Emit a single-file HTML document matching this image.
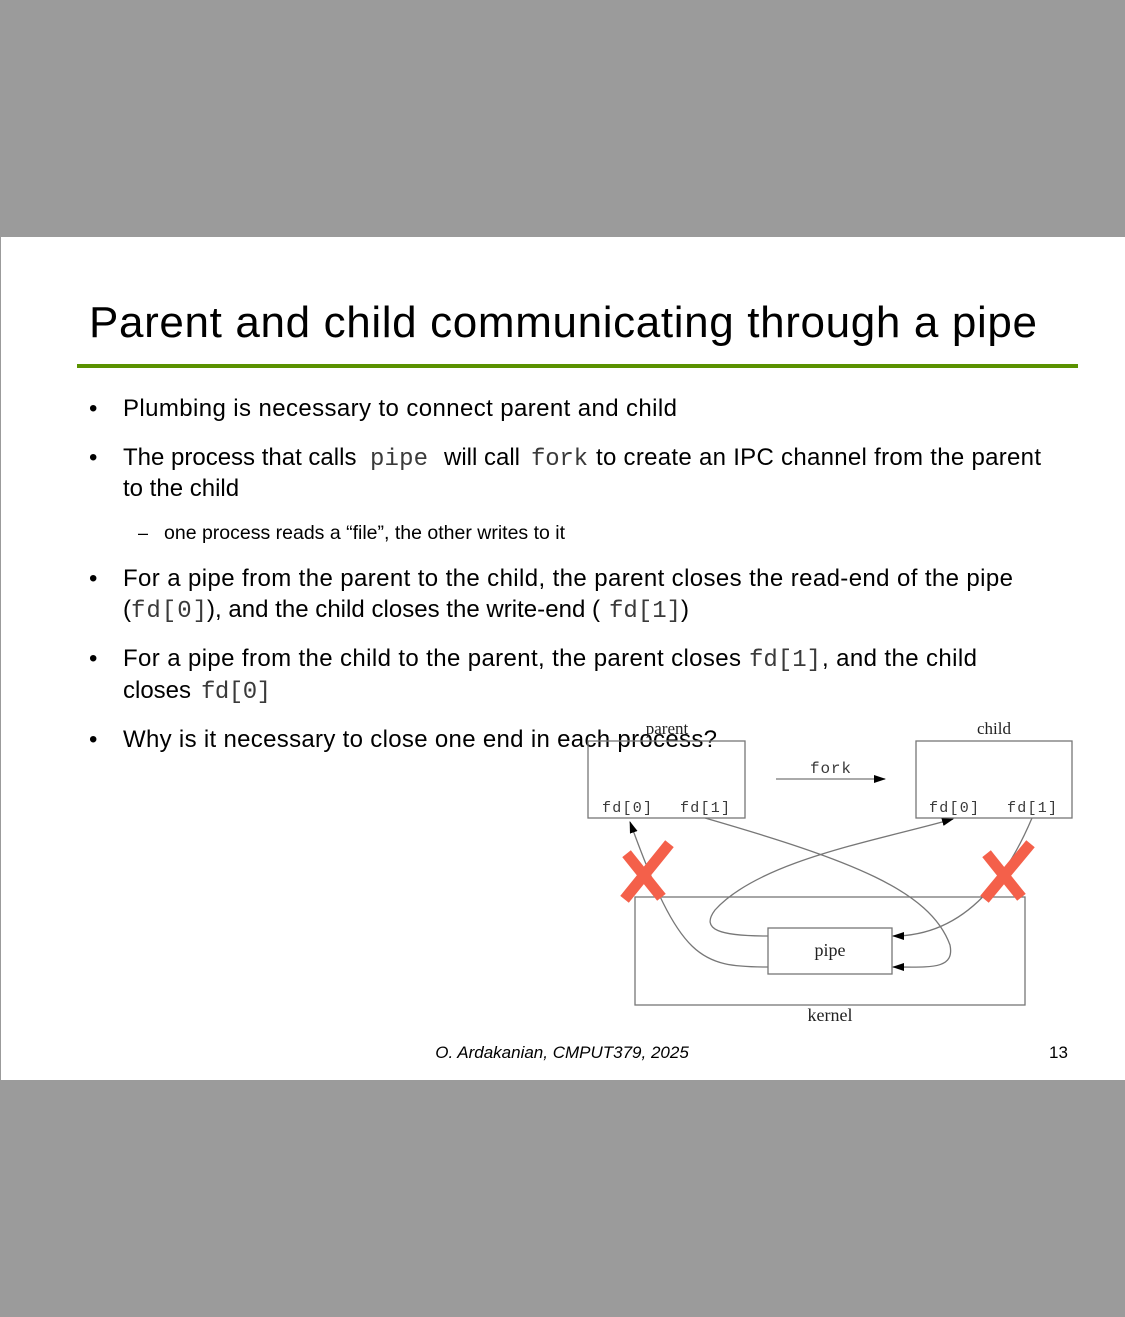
<!DOCTYPE html>
<html><head><meta charset="utf-8"><style>
html,body{margin:0;padding:0;background:#9b9b9b;}
svg{display:block;}
.s{font-family:"Liberation Sans",sans-serif;fill:#000;}
.m{font-family:"Liberation Mono",monospace;fill:#3a3a3a;}
.r{font-family:"Liberation Serif",serif;fill:#222;}
</style></head><body>
<svg width="1125" height="1317" viewBox="0 0 1125 1317" xmlns="http://www.w3.org/2000/svg">
<rect x="0" y="0" width="1125" height="1317" fill="#9b9b9b"/>
<rect x="1" y="237" width="1124" height="843" fill="#fff"/>
<text class="s" x="89" y="337" font-size="44" textLength="948">Parent and child communicating through a pipe</text>
<rect x="77" y="364" width="1001" height="4" fill="#5a9200"/>

<g font-size="24">
<text class="s" x="89" y="416">•</text>
<text class="s" x="123" y="416" textLength="554">Plumbing is necessary to connect parent and child</text>

<text class="s" x="89" y="465">•</text>
<g>
<text class="s" x="123" y="465">The process that calls</text>
<text class="m" x="370" y="465" textLength="58">pipe</text>
<text class="s" x="444" y="465">will call</text>
<text class="m" x="531" y="465" textLength="57">fork</text>
<text class="s" x="596" y="465" textLength="445">to create an IPC channel from the parent</text>
<text class="s" x="123" y="496">to the child</text>
</g>
<text class="s" x="138" y="539" font-size="18">–</text>
<text class="s" x="164" y="539" font-size="19.5">one process reads a “file”, the other writes to it</text>

<text class="s" x="89" y="586">•</text>
<g>
<text class="s" x="123" y="586" textLength="890">For a pipe from the parent to the child, the parent closes the read-end of the pipe</text>
<text class="s" x="123" y="617">(</text>
<text class="m" x="131" y="617" textLength="76">fd[0]</text>
<text class="s" x="207" y="617" textLength="393">), and the child closes the write-end (</text>
<text class="m" x="609" y="617" textLength="72">fd[1]</text>
<text class="s" x="681" y="617">)</text>
</g>

<text class="s" x="89" y="666">•</text>
<g>
<text class="s" x="123" y="666" textLength="618">For a pipe from the child to the parent, the parent closes</text>
<text class="m" x="749" y="666" textLength="72">fd[1]</text>
<text class="s" x="822" y="666" textLength="155">, and the child</text>
<text class="s" x="123" y="698">closes</text>
<text class="m" x="201" y="698" textLength="70">fd[0]</text>
</g>

<text class="s" x="89" y="747">•</text>
<text class="s" x="123" y="747" textLength="594">Why is it necessary to close one end in each process?</text>
</g>

<g stroke="#777" fill="none" stroke-width="1.3">
<defs><marker id="ah" markerWidth="12" markerHeight="8" refX="11" refY="4" orient="auto" markerUnits="userSpaceOnUse"><path d="M0,0L12,4L0,8z" fill="#000" stroke="none"/></marker></defs>
<rect x="588" y="741" width="157" height="77"/>
<rect x="916" y="741" width="156" height="77"/>
<rect x="635" y="897" width="390" height="108"/>
<rect x="768" y="928" width="124" height="46"/>
<line x1="776" y1="779" x2="885" y2="779" marker-end="url(#ah)"/>
<path d="M768,967 C700,967 680,960 630,822" marker-end="url(#ah)"/>
<path d="M705,818 C850,860 930,890 950,945 C955,970 930,967 893,967" marker-end="url(#ah)"/>
<path d="M768,936 C720,936 700,930 715,910 C760,860 880,840 953,819" marker-end="url(#ah)"/>
<path d="M1032,818 C1010,870 970,936 893,936" marker-end="url(#ah)"/>
</g>
<g>
<text class="r" x="667" y="734" font-size="17" text-anchor="middle">parent</text>
<text class="r" x="994" y="734" font-size="17" text-anchor="middle">child</text>
<text class="m" x="810" y="773" font-size="16" textLength="41" fill="#222">fork</text>
<text class="m" x="602" y="812" font-size="15" textLength="50" fill="#222">fd[0]</text>
<text class="m" x="680" y="812" font-size="15" textLength="50" fill="#222">fd[1]</text>
<text class="m" x="929" y="812" font-size="15" textLength="50" fill="#222">fd[0]</text>
<text class="m" x="1007" y="812" font-size="15" textLength="50" fill="#222">fd[1]</text>
<text class="r" x="830" y="956" font-size="18" text-anchor="middle">pipe</text>
<text class="r" x="830" y="1021" font-size="18" text-anchor="middle">kernel</text>
</g>
<g stroke="#f4604a" stroke-width="11" stroke-linecap="square">
<path d="M630,858 L658,893 M666,848 L628,895"/>
<path d="M990,858 L1018,893 M1027,848 L988,895"/>
</g>
<text class="s" x="562" y="1058" font-size="17" font-style="italic" text-anchor="middle" fill="#222">O. Ardakanian, CMPUT379, 2025</text>
<text class="s" x="1049" y="1058" font-size="17" fill="#222">13</text>
</svg>
</body></html>
